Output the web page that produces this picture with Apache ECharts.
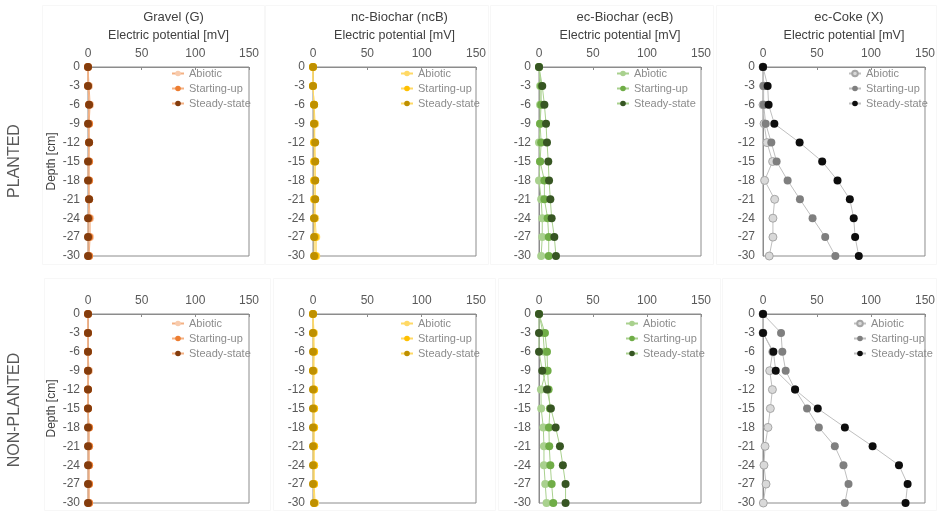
<!DOCTYPE html>
<html>
<head>
<meta charset="utf-8">
<script src="https://cdn.jsdelivr.net/npm/echarts@6/dist/echarts.min.js"></script>
<style>
html,body{margin:0;padding:0;background:#fff;}
#chart{width:938px;height:511px;}
</style>
</head>
<body>
<div id="chart"></div>
<script>
// depth profile of electric potential, planted / non-planted beds
var depths = [0, -3, -6, -9, -12, -15, -18, -21, -24, -27, -30];
var xTicks = [0, 50, 100, 150];
var seriesNames = ['Abiotic', 'Starting-up', 'Steady-state'];
var materials = ['Gravel (G)', 'nc-Biochar (ncB)', 'ec-Biochar (ecB)', 'ec-Coke (X)'];
var rows = ['PLANTED', 'NON-PLANTED'];

// planted
var gP_abiotic  = [0, 1, 2, 1, 1, 1, 1, 1, 2, 2, 1];
var gP_start    = [0, 0, 1, 1, 1, 1, 1, 1, 1, 1, 1];
var gP_steady   = [0, 0, 1, 0, 1, 0, 0, 1, 0, 0, 0];
var ncbP_abiotic = [0, 0, 1, 2, 1, 2, 2, 2, 2, 3, 3];
var ncbP_start   = [0, 0, 1, 1, 1, 1, 1, 1, 1, 2, 2];
var ncbP_steady  = [0, 0, 1, 1, 2, 2, 2, 2, 1, 1, 1];
var ecbP_abiotic = [0, 1, 1, 1, 0, 1, 0, 2, 3, 3, 2];
var ecbP_start   = [0, 2, 2, 1, 2, 1, 5, 5, 8, 9, 9];
var ecbP_steady  = [0, 3, 5, 6.5, 7.4, 8.6, 9.3, 10.5, 11.7, 14.2, 15.7];
var xP_abiotic = [0, 0.5, 0, 1, 3.7, 8.9, 1.5, 10.8, 9.2, 9.2, 5.8];
var xP_start   = [0, 0.6, 0.6, 2.5, 7.7, 12.6, 22.8, 34.2, 45.9, 57.6, 67];
var xP_steady  = [0, 4.3, 5.2, 10.5, 33.9, 54.8, 69, 80.4, 84, 85.3, 88.7];

// non-planted
var gN_abiotic  = [0, 0, 0, 1, 0, 0, 1, 1, 1, 1, 1];
var gN_start    = [0, 0, 0, 0, 0, 0, 1, 1, 1, 1, 1];
var gN_steady   = [0, 0, 0, 0, 0, 0, 0, 0, 0, 0, 0];
var ncbN_abiotic = [0, 1, 1, 1, 1, 1, 1, 1, 1, 1, 2];
var ncbN_start   = [0, 0, 1, 0, 1, 1, 1, 1, 1, 1, 1];
var ncbN_steady  = [0, 0, 0, 0, 0, 0, 0, 0, 0, 0, 1];
var ecbN_abiotic = [0, 3.7, 5, 6.5, 1.8, 2, 4, 4.6, 4.6, 5.8, 7];
var ecbN_start   = [0, 5.5, 7.4, 8, 8.9, 10.1, 9.2, 9.5, 10.5, 11.7, 13.2];
var ecbN_steady  = [0, 0, 0, 3, 7.4, 11, 15.4, 19.4, 22.1, 24.6, 24.6];
var xN_abiotic = [0, 0, 9, 6.2, 8.7, 6.8, 4.6, 1.9, 0.9, 2.8, 0.3];
var xN_start   = [0, 16.7, 17.9, 21, 29.7, 40.8, 51.7, 66.5, 74.5, 79.2, 75.8];
var xN_steady  = [0, 0, 9.6, 11.8, 29.7, 50.7, 75.8, 101.5, 125.9, 133.9, 132];

var panelData = [
  [gP_abiotic, gP_start, gP_steady],
  [ncbP_abiotic, ncbP_start, ncbP_steady],
  [ecbP_abiotic, ecbP_start, ecbP_steady],
  [xP_abiotic, xP_start, xP_steady],
  [gN_abiotic, gN_start, gN_steady],
  [ncbN_abiotic, ncbN_start, ncbN_steady],
  [ecbN_abiotic, ecbN_start, ecbN_steady],
  [xN_abiotic, xN_start, xN_steady]
];

var markerColors = [
  ['#f8cbad', '#ed7d31', '#843c0c'],
  ['#ffd966', '#ffc000', '#bf9000'],
  ['#a9d18e', '#70ad47', '#375623'],
  ['#d9d9d9', '#7f7f7f', '#0d0d0d']
];
var lineColors = ['#f4b183', '#ffd966', '#a9d18e', '#bfbfbf'];

var colLeft = [88, 313, 539, 763];
var colWidth = [161, 163, 162, 162];
var rowTop = [67, 314];
var plotH = 189;
var legendLeft = [[166, 395, 611, 843], [166, 395, 620, 848]];
var legendTop = [63, 313];

// faint chart-area frames (x0, x1) per row, and row spans (y0, y1)
var frameCols = [[[42, 264], [265, 488], [490, 713], [716, 936]],
                 [[44, 270], [273, 495], [498, 720], [722, 936]]];
var frameRows = [[5, 264], [278, 510]];

var font = 'Liberation Sans, Arial, sans-serif';
var axisGray = '#8c8c8c';

var grids = [], xAxes = [], yAxes = [], series = [], legends = [], titles = [], frames = [];

for (var p = 0; p < 8; p++) {
  var r = Math.floor(p / 4), c = p % 4;
  grids.push({left: colLeft[c], top: rowTop[r], width: colWidth[c], height: plotH,
    show: true, borderColor: axisGray, borderWidth: 1, backgroundColor: 'transparent'});
  xAxes.push({
    gridIndex: p, type: 'value', position: 'top', min: 0, max: 150, interval: 50,
    name: r === 0 ? 'Electric potential [mV]' : '', nameLocation: 'middle', nameGap: 25,
    nameTextStyle: {color: '#404040', fontSize: 12.5, fontFamily: font},
    axisLine: {show: true, lineStyle: {color: axisGray}},
    axisTick: {show: true, inside: true, length: 3, lineStyle: {color: axisGray}},
    axisLabel: {color: '#595959', fontSize: 12, fontFamily: font, margin: 7,
      formatter: function (v) { return xTicks.indexOf(v) >= 0 ? String(v) : ''; }},
    splitLine: {show: false}
  });
  yAxes.push({
    gridIndex: p, type: 'value', min: -30, max: 0, interval: 3,
    name: c === 0 ? 'Depth [cm]' : '', nameLocation: 'middle', nameGap: 30, nameRotate: 90,
    nameTextStyle: {color: '#404040', fontSize: 12, fontFamily: font},
    axisLine: {show: true, lineStyle: {color: axisGray}},
    axisTick: {show: false},
    axisLabel: {color: '#595959', fontSize: 12, fontFamily: font, margin: 8},
    splitLine: {show: false}
  });
  var legendItems = [];
  for (var s = 0; s < 3; s++) {
    var nm = seriesNames[s] + ' #' + p;
    legendItems.push(nm);
    var isCokeAbiotic = (c === 3 && s === 0);
    series.push({
      name: nm, type: 'line', xAxisIndex: p, yAxisIndex: p,
      data: panelData[p][s].map(function (v, i) { return [v, depths[i]]; }),
      symbol: 'circle', symbolSize: 8, z: 2 + s,
      itemStyle: {color: markerColors[c][s], borderColor: isCokeAbiotic ? '#a6a6a6' : markerColors[c][s], borderWidth: isCokeAbiotic ? 1 : 0},
      lineStyle: {color: lineColors[c], width: 1},
      emphasis: {disabled: true},
      animation: false
    });
  }
  legends.push({
    data: legendItems, orient: 'vertical', left: legendLeft[r][c], top: legendTop[r],
    itemWidth: 12, itemHeight: 7, itemGap: 4,
    textStyle: {color: '#8c8c8c', fontSize: 11, fontFamily: font},
    formatter: function (n) { return n.split(' #')[0]; }
  });
  var fc = frameCols[r][c], fr = frameRows[r];
  frames.push({type: 'rect', z: -1, silent: true,
    shape: {x: fc[0] + 0.5, y: fr[0] + 0.5, width: fc[1] - fc[0], height: fr[1] - fr[0]},
    style: {fill: 'none', stroke: '#f7f7f7', lineWidth: 1}});
}

for (var c2 = 0; c2 < 4; c2++) {
  titles.push({text: materials[c2], left: colLeft[c2] + colWidth[c2] / 2, top: 6, textAlign: 'center',
    textStyle: {color: '#404040', fontSize: 13, fontWeight: 'normal', fontFamily: font}});
}

var chart = echarts.init(document.getElementById('chart'));
chart.setOption({
  backgroundColor: '#fff',
  animation: false,
  title: titles,
  grid: grids,
  xAxis: xAxes,
  yAxis: yAxes,
  legend: legends,
  series: series,
  graphic: frames.concat([
    {type: 'text', x: 15, y: 161, rotation: Math.PI / 2,
      style: {text: rows[0], fill: '#595959', fontSize: 16, fontFamily: font, align: 'center', verticalAlign: 'middle'}},
    {type: 'text', x: 15, y: 410, rotation: Math.PI / 2,
      style: {text: rows[1], fill: '#595959', fontSize: 16, fontFamily: font, align: 'center', verticalAlign: 'middle'}}
  ])
});
</script>
</body>
</html>
